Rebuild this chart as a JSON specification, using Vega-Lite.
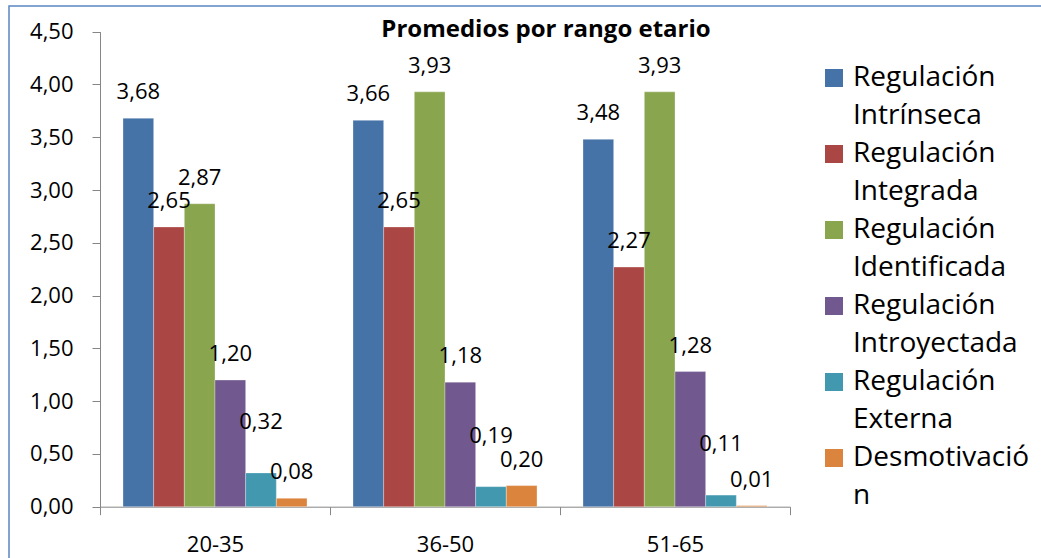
{
  "$schema": "https://vega.github.io/schema/vega-lite/v6.json",
  "width": 1040,
  "height": 560,
  "autosize": {"type": "none"},
  "padding": {"left": 9, "top": 6, "right": -8, "bottom": -8},
  "background": "#ffffff",
  "title": {
    "text": "Promedios por rango etario",
    "frame": "group",
    "anchor": "middle",
    "orient": "top",
    "baseline": "alphabetic",
    "offset": -55,
    "dx": 17,
    "font": "Open Sans",
    "fontSize": 24,
    "fontWeight": "bold",
    "color": "#000000"
  },
  "data": {
    "values": [
      {"rango": "20-35", "serie": "Regulación Intrínseca", "valor": 3.68},
      {"rango": "20-35", "serie": "Regulación Integrada", "valor": 2.65},
      {"rango": "20-35", "serie": "Regulación Identificada", "valor": 2.87},
      {"rango": "20-35", "serie": "Regulación Introyectada", "valor": 1.20},
      {"rango": "20-35", "serie": "Regulación Externa", "valor": 0.32},
      {"rango": "20-35", "serie": "Desmotivación", "valor": 0.08},
      {"rango": "36-50", "serie": "Regulación Intrínseca", "valor": 3.66},
      {"rango": "36-50", "serie": "Regulación Integrada", "valor": 2.65},
      {"rango": "36-50", "serie": "Regulación Identificada", "valor": 3.93},
      {"rango": "36-50", "serie": "Regulación Introyectada", "valor": 1.18},
      {"rango": "36-50", "serie": "Regulación Externa", "valor": 0.19},
      {"rango": "36-50", "serie": "Desmotivación", "valor": 0.20},
      {"rango": "51-65", "serie": "Regulación Intrínseca", "valor": 3.48},
      {"rango": "51-65", "serie": "Regulación Integrada", "valor": 2.27},
      {"rango": "51-65", "serie": "Regulación Identificada", "valor": 3.93},
      {"rango": "51-65", "serie": "Regulación Introyectada", "valor": 1.28},
      {"rango": "51-65", "serie": "Regulación Externa", "valor": 0.11},
      {"rango": "51-65", "serie": "Desmotivación", "valor": 0.01}
    ]
  },
  "encoding": {
    "x": {
      "field": "rango",
      "type": "nominal",
      "sort": ["20-35", "36-50", "51-65"],
      "scale": {"range": [91, 781], "paddingInner": 0, "paddingOuter": 0},
      "axis": {
        "title": null,
        "orient": "bottom",
        "offset": -59.3,
        "tickBand": "extent",
        "tickSize": 8,
        "tickColor": "#868686",
        "tickWidth": 1,
        "domainColor": "#868686",
        "domainWidth": 1,
        "labelAngle": 0,
        "labelFont": "Open Sans",
        "labelFontSize": 22,
        "labelColor": "#000000",
        "labelPadding": 20
      }
    },
    "xOffset": {
      "field": "serie",
      "type": "nominal",
      "sort": ["Regulación Intrínseca", "Regulación Integrada", "Regulación Identificada", "Regulación Introyectada", "Regulación Externa", "Desmotivación"],
      "scale": {"paddingInner": 0, "paddingOuter": 0.75}
    },
    "y": {
      "field": "valor",
      "type": "quantitative",
      "scale": {"domain": [0, 4.5], "range": [500.7, 25.7], "nice": false, "zero": true},
      "axis": {
        "title": null,
        "orient": "left",
        "offset": -91,
        "values": [0, 0.5, 1, 1.5, 2, 2.5, 3, 3.5, 4, 4.5],
        "format": ".2f",
        "grid": false,
        "tickSize": 8,
        "tickColor": "#868686",
        "tickWidth": 1,
        "domainColor": "#868686",
        "domainWidth": 1,
        "labelFont": "Open Sans",
        "labelFontSize": 22,
        "labelColor": "#000000",
        "labelPadding": 19
      }
    }
  },
  "layer": [
    {
      "mark": {"type": "bar", "stroke": "#ffffff", "strokeWidth": 0.6, "strokeOpacity": 0.5},
      "encoding": {
        "color": {
          "field": "serie",
          "type": "nominal",
          "sort": ["Regulación Intrínseca", "Regulación Integrada", "Regulación Identificada", "Regulación Introyectada", "Regulación Externa", "Desmotivación"],
          "scale": {
            "domain": ["Regulación Intrínseca", "Regulación Integrada", "Regulación Identificada", "Regulación Introyectada", "Regulación Externa", "Desmotivación"],
            "range": ["#4572A7", "#AA4643", "#89A54E", "#71588F", "#4198AF", "#DB843D"]
          },
          "legend": {
            "title": null,
            "orient": "none",
            "legendX": 811,
            "legendY": 58,
            "direction": "vertical",
            "columns": 1,
            "padding": 0,
            "rowPadding": 10,
            "symbolType": "square",
            "symbolSize": 324,
            "symbolStrokeWidth": 0,
            "symbolOpacity": 1,
            "labelFont": "Open Sans",
            "labelFontSize": 28,
            "labelColor": "#000000",
            "labelLimit": 400,
            "labelOffset": 5,
            "labelBaseline": "middle",
            "labelExpr": "datum.label == 'Desmotivación' ? ['Desmotivació', 'n'] : split(datum.label, ' ')"
          }
        }
      }
    },
    {
      "transform": [{"filter": "datum.serie != 'Regulación Externa'"}],
      "mark": {
        "type": "text",
        "baseline": "alphabetic",
        "align": "center",
        "dy": -19,
        "font": "Open Sans",
        "fontSize": 22,
        "color": "#000000"
      },
      "encoding": {
        "text": {"field": "valor", "type": "quantitative", "format": ".2f"}
      }
    },
    {
      "transform": [{"filter": "datum.serie == 'Regulación Externa'"}],
      "mark": {
        "type": "text",
        "baseline": "alphabetic",
        "align": "center",
        "dy": -44,
        "font": "Open Sans",
        "fontSize": 22,
        "color": "#000000"
      },
      "encoding": {
        "text": {"field": "valor", "type": "quantitative", "format": ".2f"}
      }
    }
  ],
  "config": {
    "locale": {
      "number": {"decimal": ",", "thousands": ".", "grouping": [3], "currency": ["", " €"]}
    },
    "view": {"stroke": "#5B87C2", "strokeWidth": 1.5},
    "style": {"guide-label": {"lineHeight": 37.5}}
  }
}
